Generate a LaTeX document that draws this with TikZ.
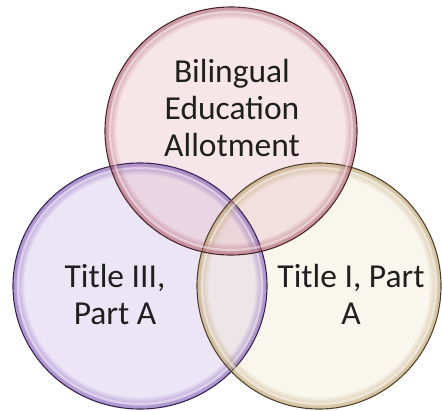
\documentclass[tikz,border=0pt]{standalone}
\usepackage{fontspec}
\setmainfont{Carlito}
\definecolor{topfill}{HTML}{E8BCC4}
\definecolor{topedge}{HTML}{A8566A}
\definecolor{topline}{HTML}{4A2228}
\definecolor{leftfill}{HTML}{CDBAE6}
\definecolor{leftedge}{HTML}{7A52B2}
\definecolor{leftline}{HTML}{33204F}
\definecolor{rightfill}{HTML}{EFE7D2}
\definecolor{rightedge}{HTML}{B89A62}
\definecolor{rightline}{HTML}{4E4028}
\tikzset{
  lbl/.style={align=center, text=black!88, font=\fontsize{33.5}{37}\selectfont, inner sep=0pt},
}
\newcommand\glossfill[5]{%
  \fill[#5fill, fill opacity=0.38] (#1,#2) ellipse [x radius=#3pt, y radius=#4pt];}
\newcommand\glossring[5]{%
  \foreach \i in {0,...,8}{%
    \pgfmathsetmacro\op{0.5-0.055*\i}%
    \draw[#5edge, draw opacity=\op, line width=1.4pt]
      (#1,#2) ellipse [x radius={#3pt-1.2pt*\i-1.2pt}, y radius={#4pt-1.2pt*\i-1.2pt}];}
  \draw[white, draw opacity=0.45, line width=2.2pt]
      (#1,#2) ellipse [x radius={#3pt-5pt}, y radius={#4pt-5pt}];
  \draw[#5line, line width=1.1pt] (#1,#2) ellipse [x radius=#3pt, y radius=#4pt];}
\begin{document}
\begin{tikzpicture}[x=1pt, y=-1pt]
\useasboundingbox (0,0) rectangle (442,410);
\glossfill{140}{286}{127}{123}{left}
\glossfill{319}{286}{122}{123}{right}
\glossfill{231}{131}{126}{124}{top}
\glossring{140}{286}{127}{123}{left}
\glossring{319}{286}{122}{123}{right}
\glossring{231}{131}{126}{124}{top}
\node[lbl] (bea) at (232,108) {Bilingual\\Education\\Allotment};
\node[lbl] (t3) at (115,294) {Title III,\\Part A};
\node[lbl] (t1) at (351,294) {Title I, Part\\A};
\end{tikzpicture}
\end{document}
